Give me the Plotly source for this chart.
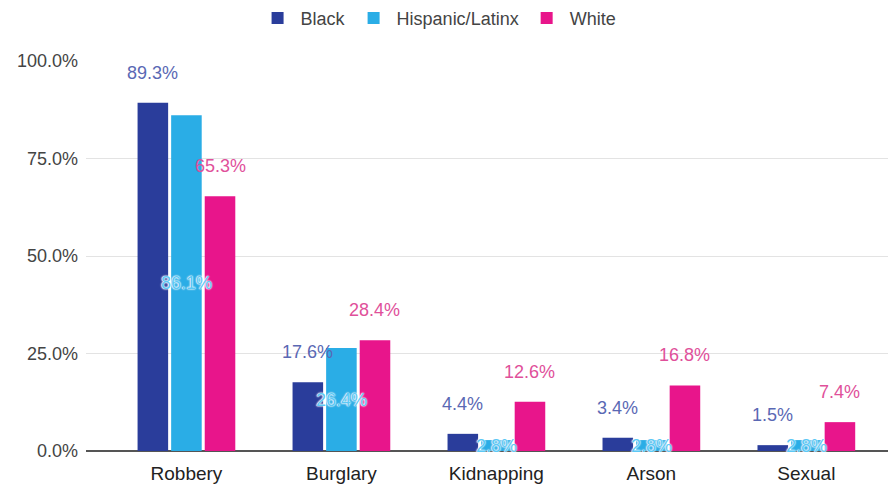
import plotly.graph_objects as go

categories = ["Robbery", "Burglary", "Kidnapping", "Arson", "Sexual"]
black = [89.3, 17.6, 4.4, 3.4, 1.5]
hispanic = [86.1, 26.4, 2.8, 2.8, 2.8]
white = [65.3, 28.4, 12.6, 16.8, 7.4]
series_names = ["Black", "Hispanic/Latinx", "White"]
y_ticks = [0, 25, 50, 75, 100]
y_tick_labels = ["0.0%", "25.0%", "50.0%", "75.0%", "100.0%"]

colors = ["#2a3d9b", "#2aade6", "#e8158b"]
label_colors = ["#5a68b4", "#5cc8f5", "#e0509a"]
FONT = "Arial, 'Liberation Sans', sans-serif"

bargap = 0.35
bargroupgap = 0.09

fig = go.Figure()
for name, vals, col in zip(series_names, [black, hispanic, white], colors):
    fig.add_trace(go.Bar(
        name=name, x=categories, y=vals, marker=dict(color=col, line=dict(width=0)),
        hoverinfo="skip",
    ))

slot = (1 - bargap) / 3
annotations = []
for i, c in enumerate(categories):
    annotations.append(dict(
        x=i - slot, y=black[i], xref="x", yref="y", text=f"{black[i]:.1f}%",
        showarrow=False, yshift=30, yanchor="middle",
        font=dict(family=FONT, size=18, color=label_colors[0]),
    ))
    annotations.append(dict(
        x=i, y=hispanic[i] / 2, xref="x", yref="y", text=f"{hispanic[i]:.1f}%",
        showarrow=False, yanchor="middle",
        font=dict(family=FONT, size=18, color=label_colors[1],
                  shadow="0px 0px 2px white, 0px 0px 2px white, 0px 0px 1px white"),
    ))
    annotations.append(dict(
        x=i + slot, y=white[i], xref="x", yref="y", text=f"{white[i]:.1f}%",
        showarrow=False, yshift=30, yanchor="middle",
        font=dict(family=FONT, size=18, color=label_colors[2]),
    ))

fig.update_layout(
    width=896, height=486,
    margin=dict(l=75, r=9, t=53, b=43),
    paper_bgcolor="white", plot_bgcolor="white",
    barmode="group", bargap=bargap, bargroupgap=bargroupgap,
    font=dict(family=FONT, size=18, color="#444444"),
    showlegend=True,
    legend=dict(orientation="h", xref="container", yref="container",
                x=0.48, xanchor="center", y=0.979, yanchor="middle",
                itemwidth=36,
                font=dict(family=FONT, size=18, color="#444444"),
                itemclick=False, itemdoubleclick=False),
    annotations=annotations,
    xaxis=dict(type="category", range=[-0.648, 4.572], showgrid=False,
               showline=False, ticks="", ticklabelstandoff=9,
               tickfont=dict(family=FONT, size=19, color="#222222"),
               fixedrange=True),
    yaxis=dict(range=[0, 100], tickvals=y_ticks, ticktext=y_tick_labels,
               showgrid=True, gridcolor="#e3e3e3", gridwidth=1,
               zeroline=True, zerolinecolor="#555555", zerolinewidth=1.5,
               ticks="", ticklabelstandoff=7,
               tickfont=dict(family=FONT, size=18, color="#444444"),
               fixedrange=True),
)

fig.write_html("out.html")
